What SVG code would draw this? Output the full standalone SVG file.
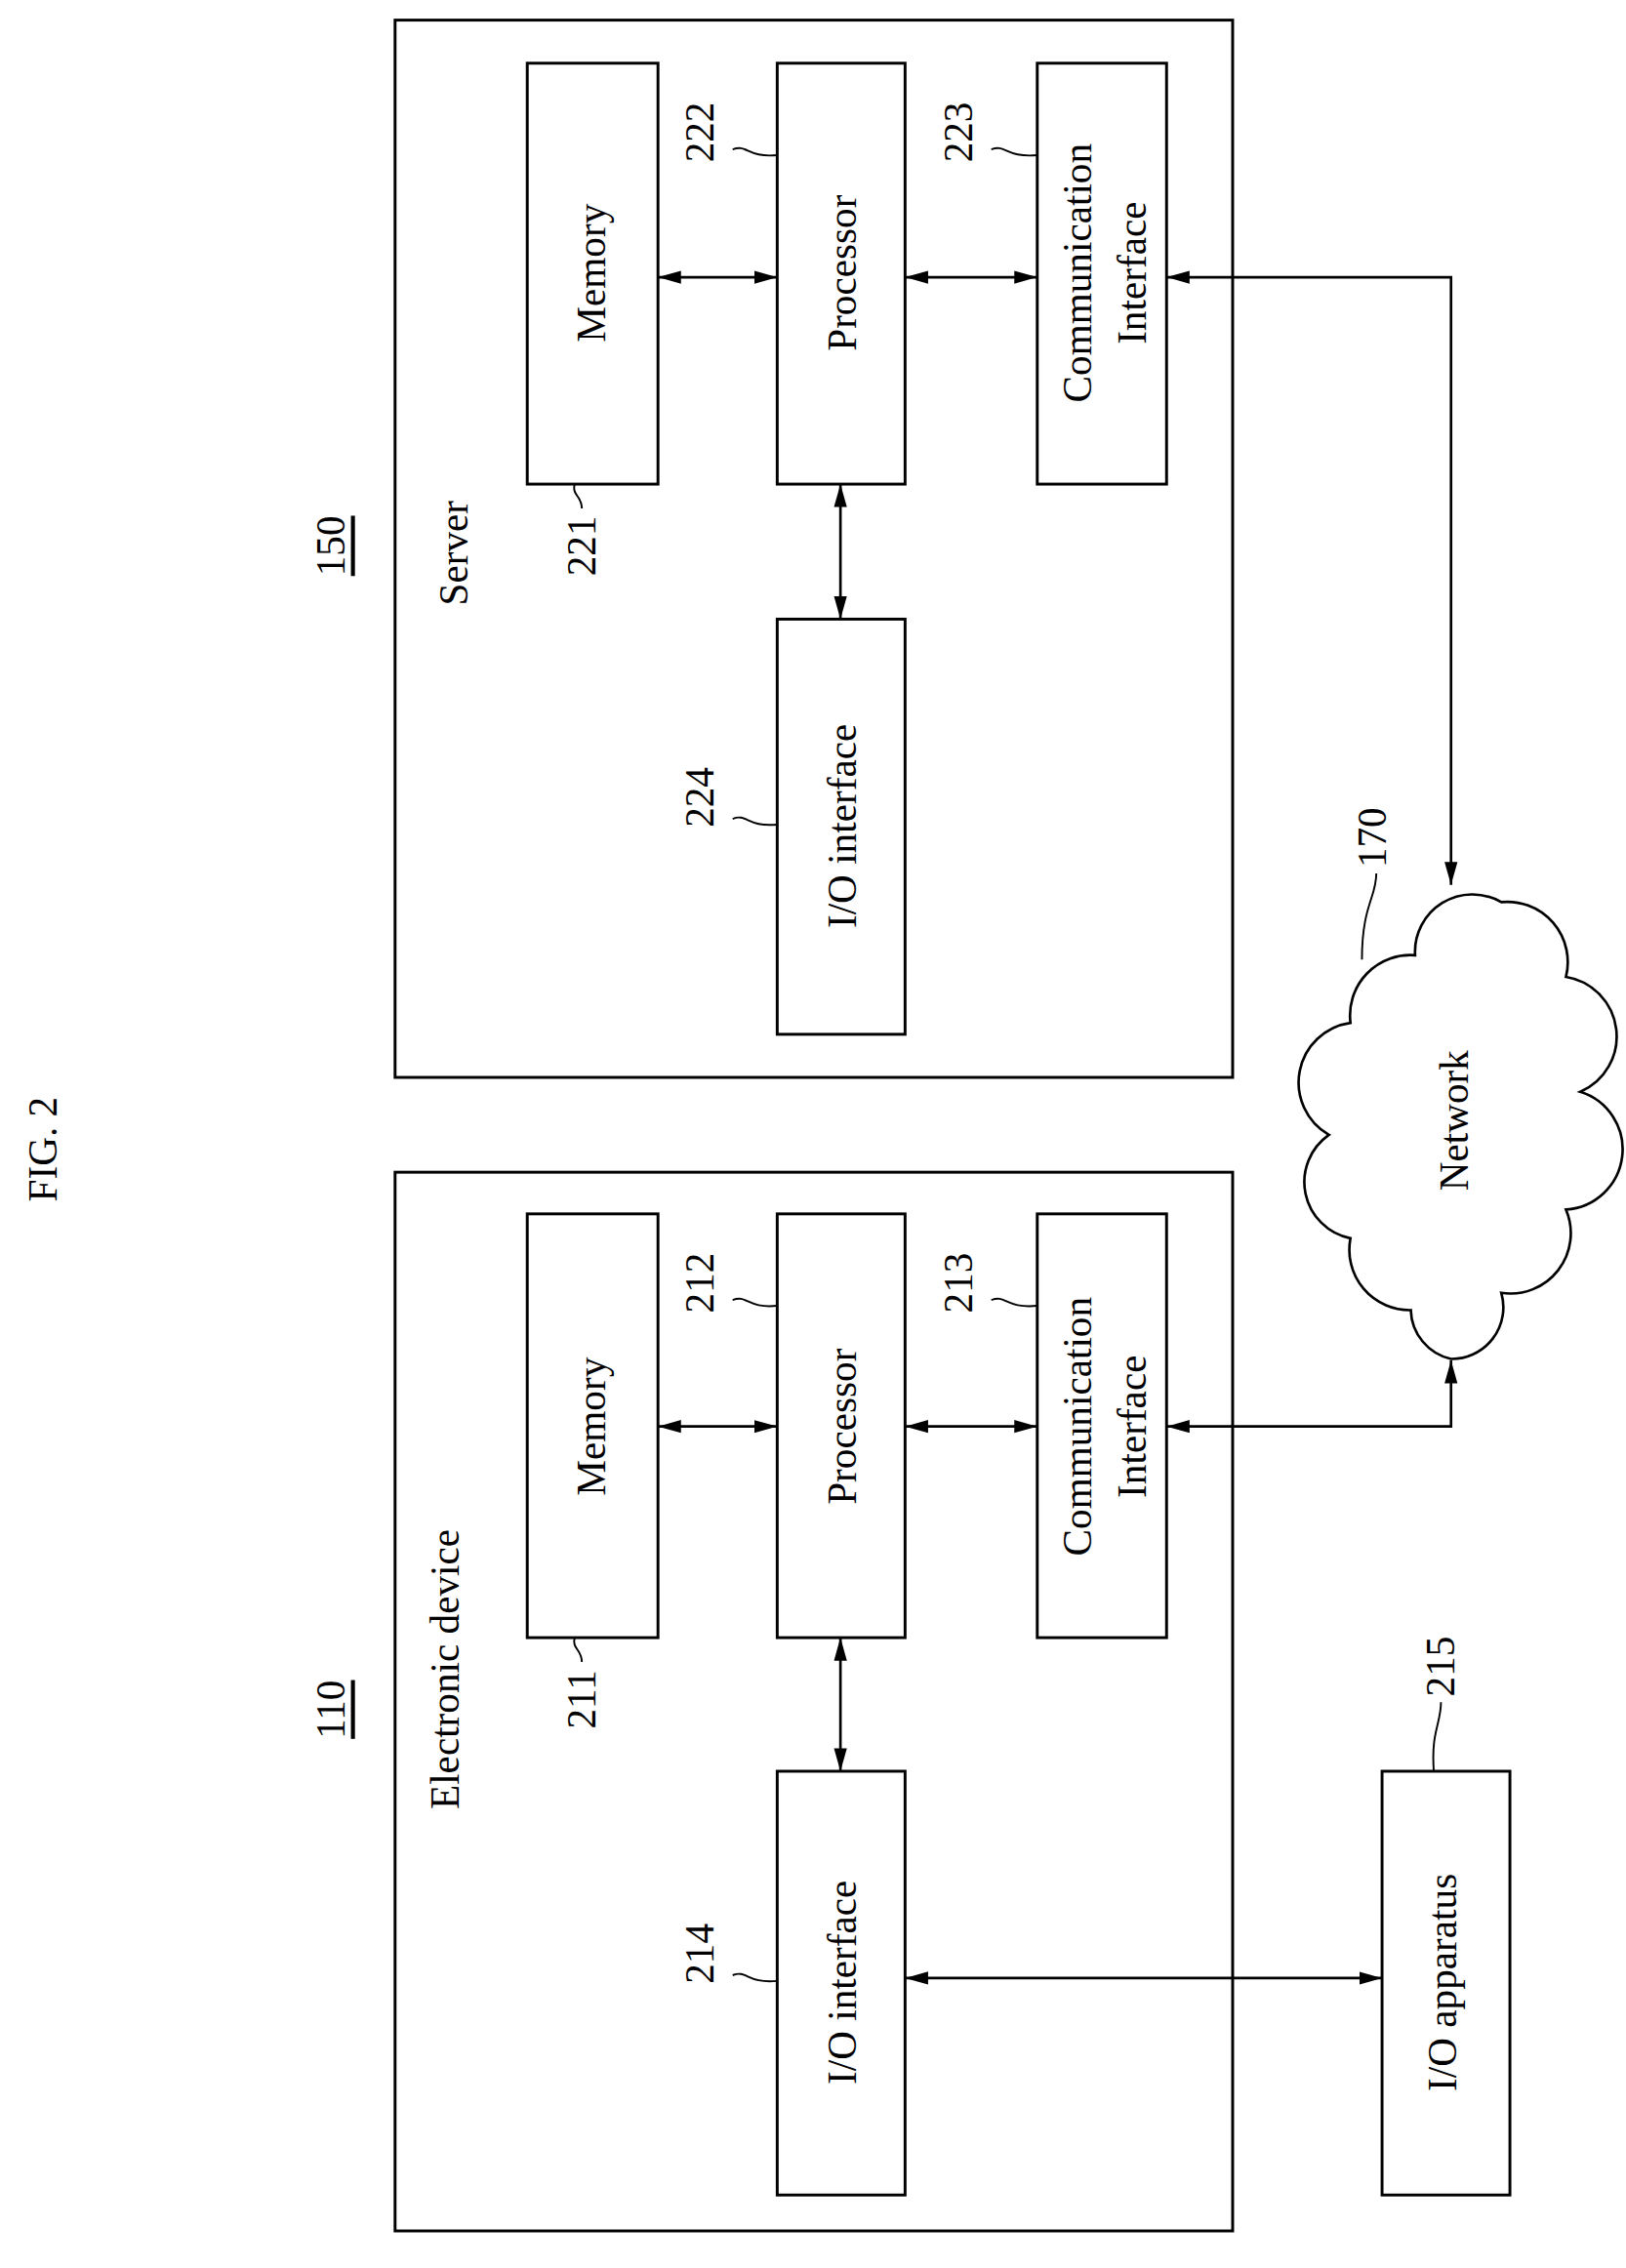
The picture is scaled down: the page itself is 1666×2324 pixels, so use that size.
<svg xmlns="http://www.w3.org/2000/svg" width="1666" height="2324" viewBox="0 0 1666 2324">
<style>
.b{fill:none;stroke:#000;stroke-width:2}
.c{fill:none;stroke:#000;stroke-width:1.8}
.l{fill:none;stroke:#000;stroke-width:1.3}
text{font-family:"Liberation Serif",serif;font-size:28px;fill:#000;text-anchor:middle;dominant-baseline:central}
</style>
<defs>
<marker id="a" viewBox="0 0 16 10" refX="16" refY="5" markerWidth="16" markerHeight="10" orient="auto-start-reverse" markerUnits="userSpaceOnUse"><path d="M0,0.5 L16,5 L0,9.5z"/></marker>
</defs>
<rect width="1666" height="2324" fill="#fff"/>
<g transform="scale(1.472)">
<text transform="translate(30,800) rotate(-90)">FIG. 2</text>
<g id="server">
<rect class="b" x="275" y="14" width="583" height="736"/>
<text transform="translate(230,380) rotate(-90)" text-decoration="underline">150</text>
<text transform="translate(316,385) rotate(-90)">Server</text>
</g>
<g id="n221"><rect class="b" x="367" y="44" width="91" height="293"/><text transform="translate(412,190) rotate(-90)">Memory</text>
<text transform="translate(405,380) rotate(-90)">221</text><path class="l" d="M405,354 C405,345 398,345 400,337"/></g>
<g id="n222"><rect class="b" x="541" y="44" width="89" height="293"/><text transform="translate(586,190) rotate(-90)">Processor</text>
<text transform="translate(487,92) rotate(-90)">222</text><path class="l" d="M510,104 C520,100 520,110 541,108"/></g>
<g id="n223"><rect class="b" x="722" y="44" width="90" height="293"/><text transform="translate(750,190) rotate(-90)">Communication</text><text transform="translate(788,190) rotate(-90)">Interface</text>
<text transform="translate(667,92) rotate(-90)">223</text><path class="l" d="M690,104 C700,100 700,110 722,108"/></g>
<g id="n224"><rect class="b" x="541" y="431" width="89" height="289"/><text transform="translate(586,575) rotate(-90)">I/O interface</text>
<text transform="translate(487,555) rotate(-90)">224</text><path class="l" d="M510,570 C520,566 520,576 541,574"/></g>
<g id="device">
<rect class="b" x="275" y="816" width="583" height="737"/>
<text transform="translate(310,1162) rotate(-90)">Electronic device</text>
<text transform="translate(230,1190) rotate(-90)" text-decoration="underline">110</text>
</g>
<g id="n211"><rect class="b" x="367" y="845" width="91" height="295"/><text transform="translate(412,993) rotate(-90)">Memory</text>
<text transform="translate(405,1183) rotate(-90)">211</text><path class="l" d="M405,1157 C405,1148 398,1148 400,1140"/></g>
<g id="n212"><rect class="b" x="541" y="845" width="89" height="295"/><text transform="translate(586,993) rotate(-90)">Processor</text>
<text transform="translate(487,893) rotate(-90)">212</text><path class="l" d="M510,905 C520,901 520,911 541,909"/></g>
<g id="n213"><rect class="b" x="722" y="845" width="90" height="295"/><text transform="translate(750,993) rotate(-90)">Communication</text><text transform="translate(788,993) rotate(-90)">Interface</text>
<text transform="translate(667,893) rotate(-90)">213</text><path class="l" d="M690,905 C700,901 700,911 722,909"/></g>
<g id="n214"><rect class="b" x="541" y="1233" width="89" height="295"/><text transform="translate(586,1380) rotate(-90)">I/O interface</text>
<text transform="translate(487,1360) rotate(-90)">214</text><path class="l" d="M510,1375 C520,1371 520,1381 541,1379"/></g>
<g id="n215"><rect class="b" x="962" y="1233" width="89" height="295"/><text transform="translate(1004,1380) rotate(-90)">I/O apparatus</text>
<text transform="translate(1003,1160) rotate(-90)">215</text><path class="l" d="M1003,1185 C1003,1200 996,1205 998,1233"/></g>
<g id="n170">
<path class="c" d="M1010,946 A36,36 0 0 1 982,912 A42,42 0 0 1 940,862 A40,40 0 0 1 925,790 A42,42 0 0 1 940,712 A42,42 0 0 1 985,665 A40,40 0 0 1 1045,628 A42,42 0 0 1 1090,680 A42,42 0 0 1 1100,760 A42,42 0 0 1 1090,842 A42,42 0 0 1 1045,900 A36,36 0 0 1 1010,946 Z"/>
<text transform="translate(1012,780) rotate(-90)">Network</text>
<text transform="translate(955,583) rotate(-90)">170</text><path class="l" d="M958,608 C958,625 948,630 948,668"/>
</g>
<g id="connectors" class="c">
<line x1="458" y1="193" x2="541" y2="193" marker-start="url(#a)" marker-end="url(#a)"/>
<line x1="630" y1="193" x2="722" y2="193" marker-start="url(#a)" marker-end="url(#a)"/>
<line x1="585" y1="337" x2="585" y2="431" marker-start="url(#a)" marker-end="url(#a)"/>
<polyline points="812,193 1010,193 1010,616" marker-start="url(#a)" marker-end="url(#a)"/>
<line x1="458" y1="993" x2="541" y2="993" marker-start="url(#a)" marker-end="url(#a)"/>
<line x1="630" y1="993" x2="722" y2="993" marker-start="url(#a)" marker-end="url(#a)"/>
<line x1="585" y1="1140" x2="585" y2="1233" marker-start="url(#a)" marker-end="url(#a)"/>
<polyline points="812,993 1010,993 1010,947" marker-start="url(#a)" marker-end="url(#a)"/>
<line x1="630" y1="1377" x2="962" y2="1377" marker-start="url(#a)" marker-end="url(#a)"/>
</g>
</g>
</svg>
